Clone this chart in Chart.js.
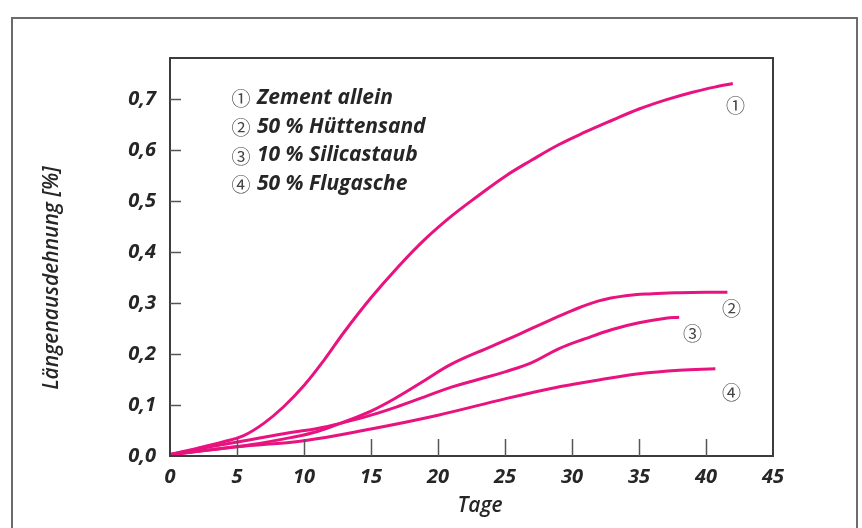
<!DOCTYPE html>
<html lang="de">
  <head>
    <meta charset="UTF-8" />
    <title>Längenausdehnung</title>
    <script src="https://cdn.jsdelivr.net/npm/chart.js"></script>
    <style>
      html, body { margin: 0; padding: 0; background: #fff; }
      #wrap { width: 862px; height: 528px; }
    </style>
  </head>
  <body>
    <div id="wrap"><canvas id="expansionChart" width="862" height="528"></canvas></div>

    <script>
      // Tage (x) und Längenausdehnung in % (y)
      const zementTage = [0, 2, 4, 5.5, 7, 8.5, 10, 11.5, 13, 15, 17, 19, 21, 23, 25, 27, 29, 31, 33, 35, 37, 39, 41, 42];
      const zementWerte = [0.003, 0.015, 0.028, 0.04, 0.064, 0.097, 0.138, 0.188, 0.243, 0.31, 0.37, 0.424, 0.47, 0.51, 0.548, 0.58, 0.61, 0.635, 0.658, 0.68, 0.698, 0.713, 0.725, 0.73];

      const huettenTage = [0, 3, 6, 9, 11, 13, 15, 17, 19, 21, 24, 26, 28, 30, 32, 34, 36, 38, 40, 41.6];
      const huettenWerte = [0.003, 0.012, 0.022, 0.036, 0.048, 0.067, 0.088, 0.116, 0.148, 0.18, 0.215, 0.238, 0.262, 0.285, 0.304, 0.314, 0.318, 0.32, 0.321, 0.321];

      const silicaTage = [0, 3, 6, 9, 11, 13, 15, 17, 19, 21, 23, 25, 27, 29, 31, 33, 35, 37, 38];
      const silicaWerte = [0.003, 0.018, 0.032, 0.046, 0.054, 0.066, 0.08, 0.097, 0.116, 0.135, 0.15, 0.165, 0.183, 0.21, 0.23, 0.248, 0.261, 0.27, 0.272];

      const flugTage = [0, 5, 10, 15, 20, 25, 28, 30, 32, 35, 38, 40.7];
      const flugWerte = [0.002, 0.018, 0.03, 0.053, 0.08, 0.112, 0.13, 0.14, 0.149, 0.161, 0.168, 0.171];

      const legendeNummern = ["①", "②", "③", "④"];
      const legendeTexte = ["Zement allein", "50 % Hüttensand", "10 % Silicastaub", "50 % Flugasche"];

      const xTicks = [0, 5, 10, 15, 20, 25, 30, 35, 40, 45];
      const yTicks = [0, 0.1, 0.2, 0.3, 0.4, 0.5, 0.6, 0.7];

      const magenta = "#e8137f";
      const textColor = "#262626";
      const axisColor = "#3c3c3c";
      const fontFamily = '"Open Sans", "Noto Sans", sans-serif';
      const circleFont = '"Noto Sans CJK JP", "DejaVu Sans", sans-serif';

      function toPoints(days, values) {
        return days.map((d, i) => ({ x: d, y: values[i] }));
      }

      function makeDataset(label, days, values) {
        return {
          label: label,
          data: toPoints(days, values),
          borderColor: magenta,
          backgroundColor: magenta,
          borderWidth: 3,
          pointRadius: 0,
          tension: 0.4,
          fill: false,
        };
      }

      // Rahmen, Innen-Ticks, Legende, Kurvennummern und Achsentitel
      const decorPlugin = {
        id: "decor",
        beforeDraw(chart) {
          const ctx = chart.ctx;
          ctx.save();
          ctx.strokeStyle = "#6b6b6b";
          ctx.lineWidth = 2;
          ctx.strokeRect(12, 18, 845, 530);
          ctx.restore();
        },
        afterDraw(chart) {
          const ctx = chart.ctx;
          const area = chart.chartArea;
          const xs = chart.scales.x;
          const ys = chart.scales.y;
          ctx.save();

          // Plotrahmen
          ctx.strokeStyle = axisColor;
          ctx.lineWidth = 2;
          ctx.strokeRect(area.left, area.top, area.right - area.left, area.bottom - area.top);

          // Innen-Ticks
          ctx.lineWidth = 1.5;
          ctx.strokeStyle = "#555";
          yTicks.slice(1).forEach((v) => {
            const y = Math.round(ys.getPixelForValue(v)) + 0.5;
            ctx.beginPath();
            ctx.moveTo(area.left, y);
            ctx.lineTo(area.left + 11, y);
            ctx.stroke();
          });
          xTicks.slice(1, -1).forEach((v) => {
            const x = Math.round(xs.getPixelForValue(v)) + 0.5;
            ctx.beginPath();
            ctx.moveTo(x, area.bottom);
            ctx.lineTo(x, area.bottom - 17);
            ctx.stroke();
          });

          // Legende
          ctx.textBaseline = "middle";
          legendeTexte.forEach((txt, i) => {
            const y = 98 + i * 28.7;
            ctx.fillStyle = "#444";
            ctx.font = "19px " + circleFont;
            ctx.textAlign = "center";
            ctx.fillText(legendeNummern[i], 241, y + 1);
            ctx.fillStyle = textColor;
            ctx.font = "italic bold 21px " + fontFamily;
            ctx.textAlign = "left";
            ctx.fillText(txt, 257, y);
          });

          // Kurvennummern (Position in Datenkoordinaten)
          const labelPos = [
            [42.2, 0.689],
            [41.9, 0.29],
            [39.0, 0.241],
            [41.9, 0.126],
          ];
          ctx.fillStyle = "#444";
          ctx.font = "19px " + circleFont;
          ctx.textAlign = "center";
          legendeNummern.forEach((n, i) => {
            ctx.fillText(n, xs.getPixelForValue(labelPos[i][0]), ys.getPixelForValue(labelPos[i][1]) + 1);
          });

          // Achsentitel
          ctx.fillStyle = textColor;
          ctx.font = "italic 600 21px " + fontFamily;
          ctx.textAlign = "center";
          ctx.fillText("Tage", 480, 506);
          ctx.translate(52, 278);
          ctx.rotate(-Math.PI / 2);
          ctx.fillText("Längenausdehnung [%]", 0, 0);

          ctx.restore();
        },
      };

      const ctx = document.getElementById("expansionChart").getContext("2d");
      new Chart(ctx, {
        type: "line",
        data: {
          datasets: [
            makeDataset(legendeTexte[0], zementTage, zementWerte),
            makeDataset(legendeTexte[1], huettenTage, huettenWerte),
            makeDataset(legendeTexte[2], silicaTage, silicaWerte),
            makeDataset(legendeTexte[3], flugTage, flugWerte),
          ],
        },
        options: {
          responsive: false,
          animation: false,
          devicePixelRatio: 1,
          layout: { padding: { top: 58, right: 89, left: 0, bottom: 0 } },
          plugins: {
            legend: { display: false },
            tooltip: { enabled: false },
          },
          scales: {
            x: {
              type: "linear",
              min: 0,
              max: 45,
              grid: { display: false, drawTicks: false },
              border: { display: false },
              afterFit: (scale) => { scale.height = 72; },
              afterBuildTicks: (scale) => { scale.ticks = xTicks.map((v) => ({ value: v })); },
              ticks: {
                padding: 9,
                color: textColor,
                font: { family: fontFamily, size: 20, weight: "bold", style: "italic" },
              },
            },
            y: {
              type: "linear",
              min: 0,
              max: 0.78,
              grid: { display: false, drawTicks: false },
              border: { display: false },
              afterFit: (scale) => { scale.width = 170; },
              afterBuildTicks: (scale) => { scale.ticks = yTicks.map((v) => ({ value: v })); },
              ticks: {
                padding: 14,
                color: textColor,
                font: { family: fontFamily, size: 20, weight: "bold", style: "italic" },
                callback: (v) => v.toFixed(1).replace(".", ","),
              },
            },
          },
        },
        plugins: [decorPlugin],
      });
    </script>
  </body>
</html>
